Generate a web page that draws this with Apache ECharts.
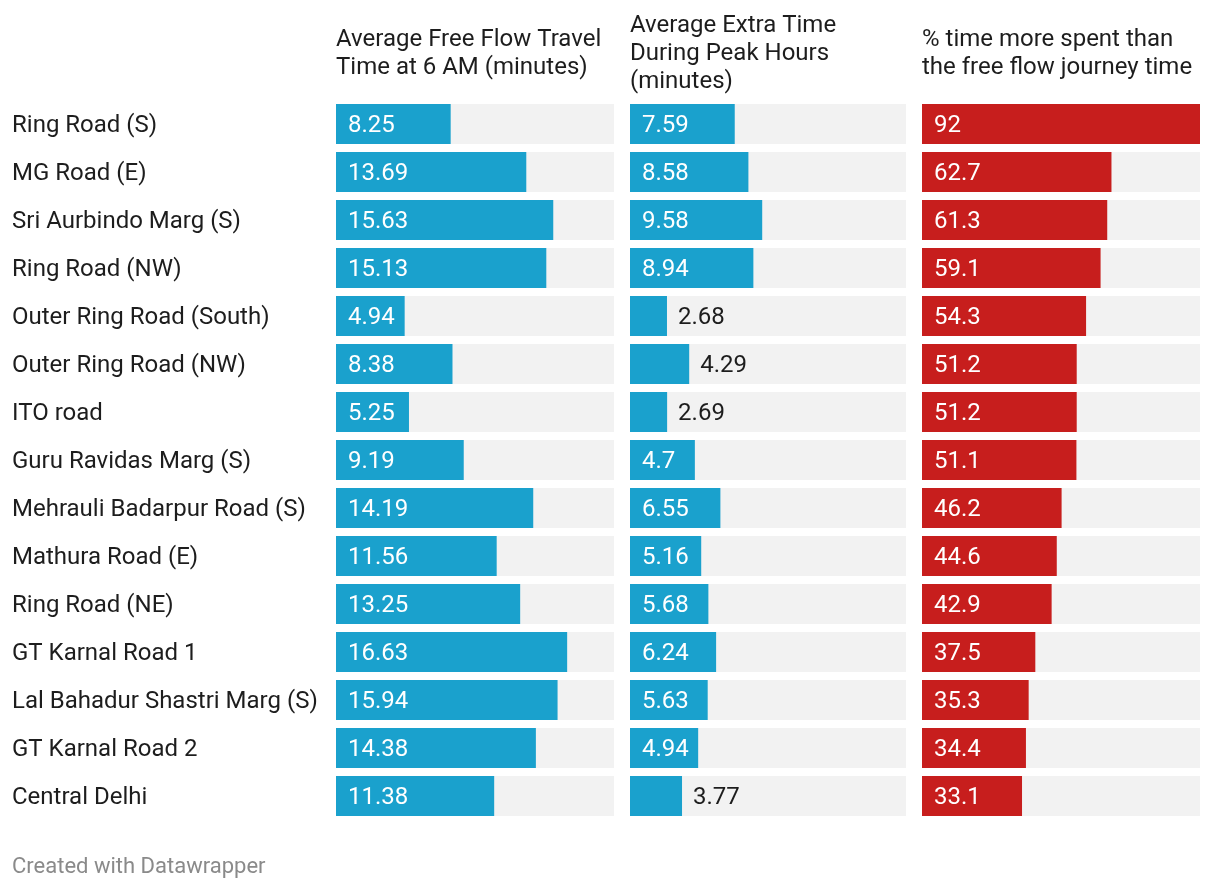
<!DOCTYPE html>
<html>
<head>
<meta charset="utf-8">
<script src="https://cdn.jsdelivr.net/npm/echarts@6/dist/echarts.min.js"></script>
<style>
html,body{margin:0;padding:0;background:#fff;}
#chart{width:1220px;height:892px;}
</style>
</head>
<body>
<div id="chart"></div>
<script>
const roads = ["Ring Road (S)","MG Road (E)","Sri Aurbindo Marg (S)","Ring Road (NW)","Outer Ring Road (South)","Outer Ring Road (NW)","ITO road","Guru Ravidas Marg (S)","Mehrauli Badarpur Road (S)","Mathura Road (E)","Ring Road (NE)","GT Karnal Road 1","Lal Bahadur Shastri Marg (S)","GT Karnal Road 2","Central Delhi"];
const freeFlow = [8.25,13.69,15.63,15.13,4.94,8.38,5.25,9.19,14.19,11.56,13.25,16.63,15.94,14.38,11.38];
const extraTime = [7.59,8.58,9.58,8.94,2.68,4.29,2.69,4.7,6.55,5.16,5.68,6.24,5.63,4.94,3.77];
const pctMore = [92,62.7,61.3,59.1,54.3,51.2,51.2,51.1,46.2,44.6,42.9,37.5,35.3,34.4,33.1];
const headers = [
  "Average Free Flow Travel\nTime at 6 AM (minutes)",
  "Average Extra Time\nDuring Peak Hours\n(minutes)",
  "% time more spent than\nthe free flow journey time"
];
const footer = "Created with Datawrapper";

const FONT = "Roboto, 'Noto Sans', sans-serif";
const FS = 24;
const cols = [
  {left:336, width:278, max:20, data:freeFlow, color:'#1aa1cd'},
  {left:630, width:276, max:20, data:extraTime, color:'#1aa1cd'},
  {left:922, width:278, max:92, data:pctMore, color:'#c71e1d'}
];
const TOP = 100, ROWH = 48;

const cv = document.createElement('canvas').getContext('2d');
cv.font = FS + "px Roboto";
function tw(s){ return cv.measureText(s).width; }

const grid=[], xAxis=[], yAxis=[], series=[];
cols.forEach((c,i)=>{
  grid.push({left:c.left, top:TOP, width:c.width, height:ROWH*roads.length});
  xAxis.push({gridIndex:i, type:'value', min:0, max:c.max, show:false});
  yAxis.push({gridIndex:i, type:'category', data:roads, inverse:true,
    axisLine:{show:false}, axisTick:{show:false}, splitLine:{show:false},
    axisLabel: i===0 ? {show:true, align:'left', margin:c.left-12,
      formatter:'{a|{value}}',
      rich:{a:{fontSize:FS, color:'#1d1d1d', fontFamily:FONT, padding:[4,0,0,0]}}} : {show:false}
  });
  series.push({
    type:'bar', xAxisIndex:i, yAxisIndex:i, barWidth:40,
    showBackground:true, backgroundStyle:{color:'#f2f2f2'},
    itemStyle:{color:c.color},
    animation:false,
    data:c.data.map(v=>{
      const px = v/c.max*c.width;
      const s = String(v);
      const inside = px >= tw(s) + 18;
      return {value:v, label: inside ?
        {show:true, position:'insideLeft', distance:12, offset:[0,2], color:'#ffffff', fontSize:FS, fontFamily:FONT} :
        {show:true, position:'right', distance:11, offset:[0,2], color:'#1d1d1d', fontSize:FS, fontFamily:FONT}};
    })
  });
});

const graphic = headers.map((h,i)=>({
  type:'text', left:cols[i].left, top: 54 - h.split('\n').length*28/2,
  style:{text:h, font: FS+"px "+FONT, fill:'#1d1d1d', lineHeight:28}
}));
graphic.push({type:'text', left:12, top:856, style:{text:footer, font:"22px "+FONT, fill:'#8a8a8a'}});

const chart = echarts.init(document.getElementById('chart'), null, {renderer:'canvas'});
chart.setOption({animation:false, grid, xAxis, yAxis, series, graphic});
</script>
</body>
</html>
